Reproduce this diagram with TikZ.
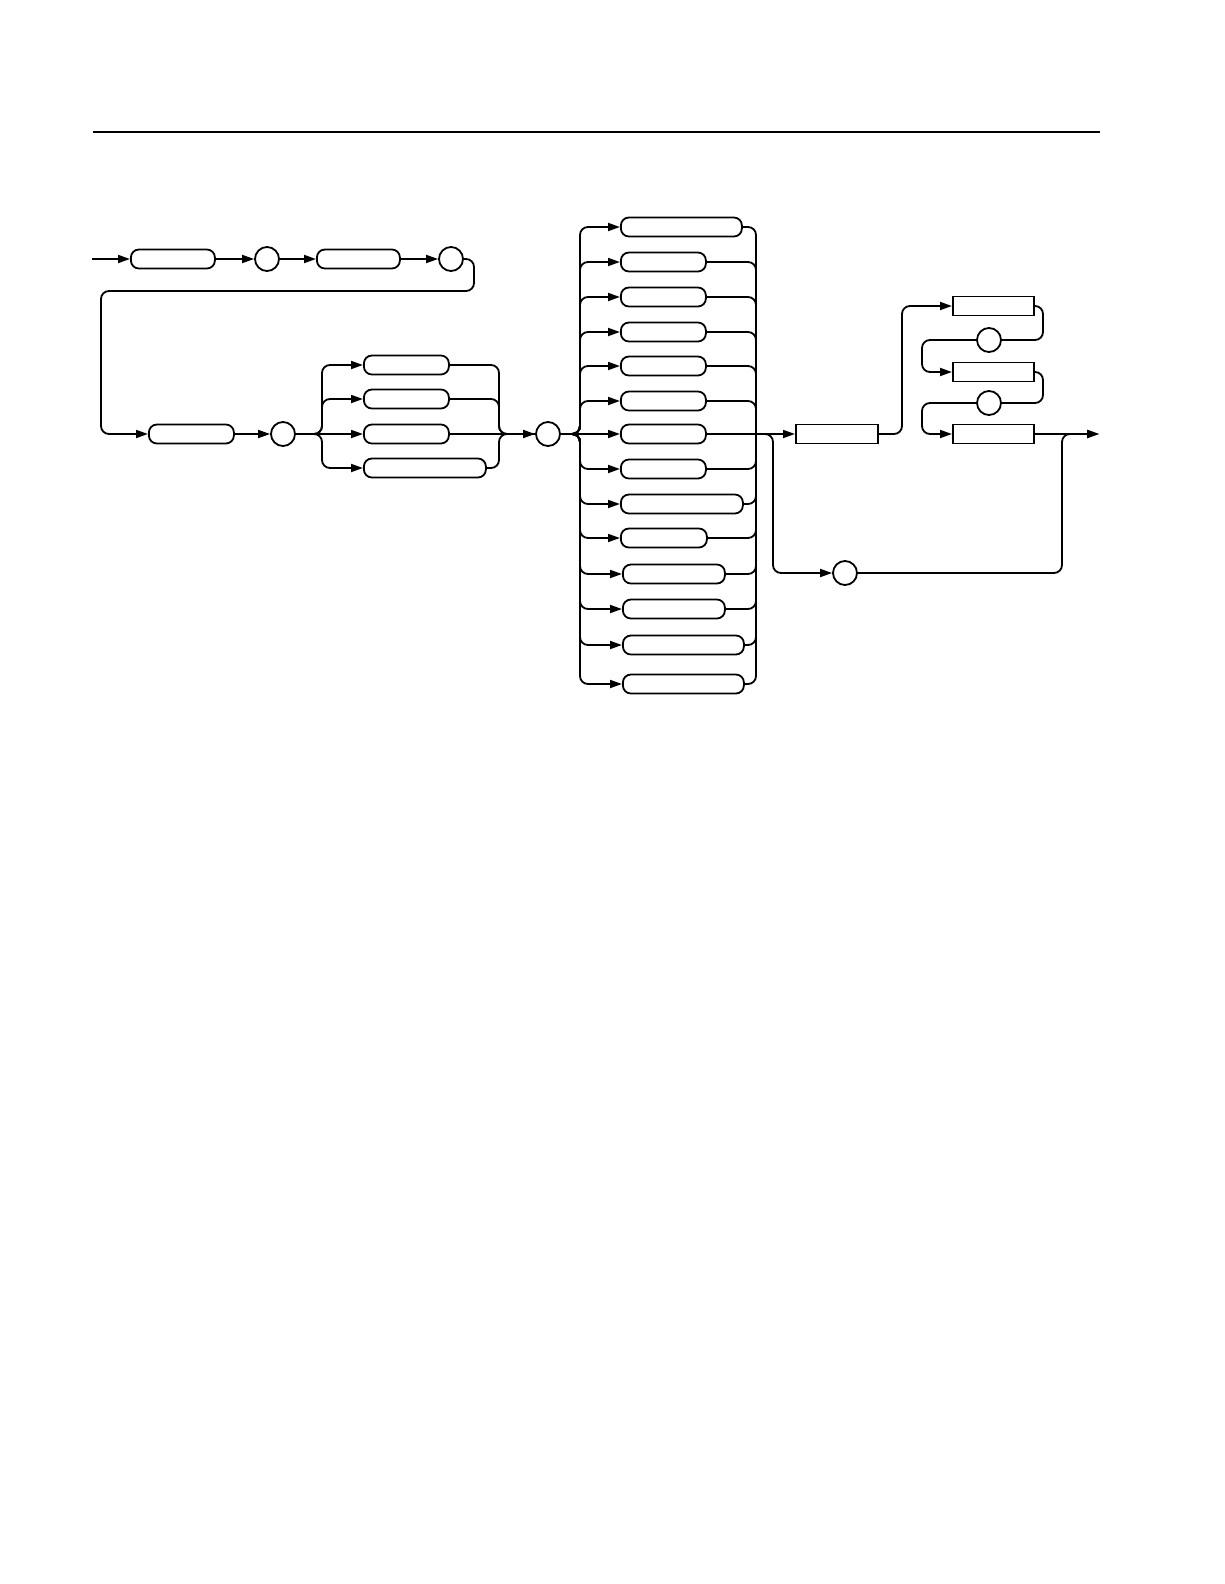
\documentclass[tikz,border=0pt]{standalone}
\usetikzlibrary{arrows.meta}
\begin{document}
\begin{tikzpicture}[x=1pt,y=-1pt,
 line width=1.8pt,
 pill/.style={draw, rounded corners=8pt, minimum height=19pt, inner sep=0pt, anchor=west},
 rbox/.style={draw, rectangle, minimum height=19pt, inner sep=0pt, anchor=west},
 circ/.style={draw, circle, minimum size=24pt, inner sep=0pt},
 conn/.style={rounded corners=8pt},
 arr/.style={-{Triangle[length=12pt,width=8pt]}}]
\useasboundingbox (0,0) rectangle (1224,1584);
\draw[line width=1.2pt] (93,132) -- (1100,132);
% row 1
\coordinate (start) at (92,259);
\node[pill, minimum width=84pt] (b1) at (130,259) {};
\node[circ] (c1) at (267,259) {};
\node[pill, minimum width=83pt] (b2) at (316,259) {};
\node[circ] (c2) at (451,259) {};
\draw[arr] (start) -- (b1.west);
\draw[arr] (b1.east) -- (c1.west);
\draw[arr] (c1.east) -- (b2.west);
\draw[arr] (b2.east) -- (c2.west);
% row 2
\node[pill, minimum width=85pt] (b3) at (148,434) {};
\draw[arr,conn] (c2.east) -- (474,259) -- (474,291) -- (101,291) -- (101,434) -- (b3.west);
\node[circ] (c3) at (283,434) {};
\draw[arr] (b3.east) -- (c3.west);
\node[pill, minimum width=85pt] (d1) at (363,365) {};
\node[pill, minimum width=85pt] (d2) at (363,399) {};
\node[pill, minimum width=85pt] (d3) at (363,434) {};
\node[pill, minimum width=122pt] (d4) at (363,468) {};
\node[circ] (c4) at (548,434) {};
\foreach \n/\y in {1/365,2/399,4/468}{
  \draw[arr,conn] (c3.east) -- (322,434) -- (322,\y) -- (d\n.west);
  \draw[conn] (d\n.east) -- (499,\y) -- (499,434) -- (c4.west);
}
\draw[arr] (c3.east) -- (d3.west);
\draw[arr] (d3.east) -- (c4.west);
% big column
\foreach \n/\y/\x/\w in {1/227/620/121, 2/262/620/85, 3/297/620/85, 4/332/620/85, 5/366/620/85, 6/401/620/85, 7/434/620/85, 8/469/620/85, 9/504/620/122, 10/538/620/86, 11/574/622/102, 12/609/622/102, 13/645/622/121, 14/684/622/121}{
  \node[pill, minimum width=\w pt] (k\n) at (\x,\y) {};
}
\foreach \n/\y in {1/227,2/262,3/297,4/332,5/366,6/401,8/469,9/504,10/538,11/574,12/609,13/645,14/684}{
  \draw[arr,conn] (c4.east) -- (580,434) -- (580,\y) -- (k\n.west);
  \draw[conn] (k\n.east) -- (756,\y) -- (756,434);
}
\draw[arr] (c4.east) -- (k7.west);
\node[rbox, minimum width=82pt] (ra) at (795,434) {};
\draw[arr] (k7.east) -- (ra.west);
% lower branch
\coordinate (j) at (756,434);
\coordinate (out) at (1099,434);
\node[circ] (c5) at (845,573) {};
\draw[arr,conn] (j) -- (773,434) -- (773,573) -- (c5.west);
\draw[arr,conn] (c5.east) -- (1062,573) -- (1062,434) -- (out);
% right group
\node[rbox, minimum width=81pt] (rb) at (952,306) {};
\node[rbox, minimum width=81pt] (rc) at (952,372) {};
\node[rbox, minimum width=81pt] (rd) at (952,434) {};
\node[circ] (e1) at (989,340) {};
\node[circ] (e2) at (989,403) {};
\draw[arr,conn] (ra.east) -- (902,434) -- (902,306) -- (rb.west);
\draw[conn] (rb.east) -- (1043,306) -- (1043,340) -- (e1.east);
\draw[arr,conn] (e1.west) -- (922,340) -- (922,372) -- (rc.west);
\draw[conn] (rc.east) -- (1043,372) -- (1043,403) -- (e2.east);
\draw[arr,conn] (e2.west) -- (922,403) -- (922,434) -- (rd.west);
\draw[arr] (rd.east) -- (out);
\end{tikzpicture}
\end{document}
